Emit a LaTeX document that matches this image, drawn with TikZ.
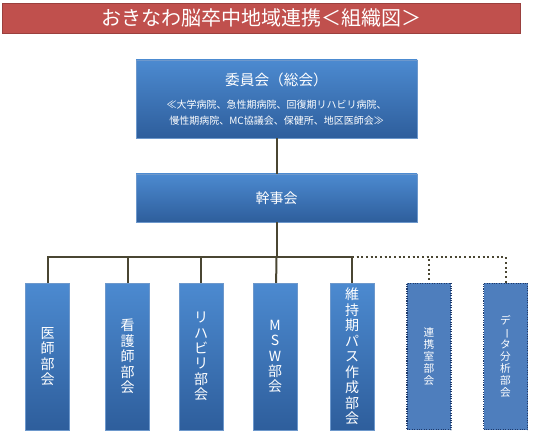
\documentclass[tikz,border=0pt]{standalone}
\usepackage{fontspec}
\setmainfont{Noto Sans CJK JP}
\usepackage{xcolor}
\usepackage{tikz}
\usetikzlibrary{positioning}

\definecolor{titlered}{HTML}{C0504D}
\definecolor{boxtop}{HTML}{4C8AD0}
\definecolor{boxbot}{HTML}{2E5E9C}
\definecolor{boxedge}{HTML}{6D98CC}
\definecolor{dotfill}{HTML}{4E7EBD}
\definecolor{dotedge}{HTML}{1F3A6A}
\definecolor{linecol}{HTML}{4A4632}

\begin{document}
\begin{tikzpicture}[
    x=0.75pt, y=-0.75pt,
    bluebox/.style = {rectangle, draw=boxedge, top color=boxtop, bottom color=boxbot, text=white, inner sep=0pt, align=center},
    bubox/.style = {bluebox, minimum width=33pt, minimum height=110pt, font=\fontsize{10.5}{11.6}\selectfont},
    dotbox/.style = {rectangle, draw=dotedge, densely dotted, thick, fill=dotfill, text=white, inner sep=0pt, align=center,
                     minimum width=33pt, minimum height=110pt, font=\fontsize{8}{9}\selectfont},
    link/.style = {draw=linecol, line width=1.5pt},
    dotlink/.style = {draw=linecol, line width=1.5pt, dotted}
]
\useasboundingbox (0,0) rectangle (550,441);

% title
\node [rectangle, draw=titlered!80!black, fill=titlered, text=white, minimum width=388.5pt, minimum height=22.5pt,
       font=\fontsize{15}{18}\selectfont] (title) at (261,18) {おきなわ脳卒中地域連携＜組織図＞};

\node [bluebox, minimum width=210.75pt, minimum height=58.5pt] (iin) at (276.5,99)
    {{\fontsize{11}{14}\selectfont 委員会（総会）}\\[5pt]
     {\fontsize{7.5}{8.5}\selectfont ≪大学病院、急性期病院、回復期リハビリ病院、}\\
     {\fontsize{7.5}{8.5}\selectfont 慢性期病院、MC協議会、保健所、地区医師会≫}};

\node [bluebox, minimum width=210.75pt, minimum height=36pt, font=\fontsize{10.5}{12}\selectfont] (kanji) at (276.5,198) {幹事会};

\node [bubox] (ishi) at (47.5,356.5) {医\\師\\部\\会};
\node [bubox] (kango) at (127.5,356.5) {看\\護\\師\\部\\会};
\node [bubox] (riha) at (201,356.5) {リ\\ハ\\ビ\\リ\\部\\会};
\node [bubox] (msw) at (275,356.5) {M\\S\\W\\部\\会};
\node [bubox] (iji) at (352,356.5) {維\\持\\期\\パ\\ス\\作\\成\\部\\会};

\node [dotbox] (renkei) at (429,356.5) {連\\携\\室\\部\\会};
\node [dotbox] (data) at (505.5,356.5) {デ\\\rotatebox[origin=c]{-90}{ー}\\タ\\分\\析\\部\\会};

\coordinate (bus) at (276.5,257);
\coordinate (busr) at (352,257);

\draw [link] (iin) -- (kanji);
\draw [link] (kanji) -- (bus);
\draw [link] (bus) -| (ishi);
\draw [link] (bus) -| (kango);
\draw [link] (bus) -| (riha);
\draw [link] (bus) -- (msw);
\draw [link] (bus) -| (iji);
\draw [dotlink] (busr) -| (renkei);
\draw [dotlink] (busr) -| (data);

\end{tikzpicture}
\end{document}
